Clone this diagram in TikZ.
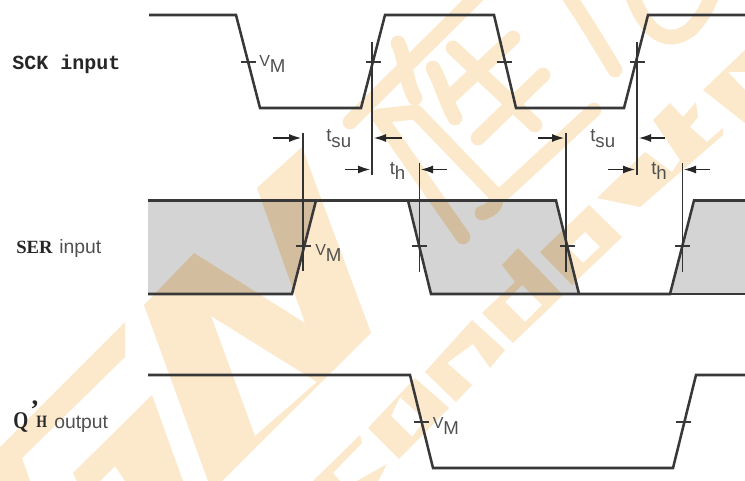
\documentclass[tikz,border=0pt]{standalone}
\usepackage{fontspec}
\setmainfont{Liberation Sans}
\newfontfamily\slabmono{Liberation Mono}[BoldFont={Liberation Mono Bold}]
\newfontfamily\slabserif{Liberation Serif}[BoldFont={Liberation Serif Bold}]
\usetikzlibrary{arrows.meta}
\definecolor{wm}{HTML}{FCE8CB}
\definecolor{wmdark}{HTML}{D2BE9F}
\definecolor{sig}{HTML}{383838}
\definecolor{lab}{HTML}{505050}
\definecolor{datagrey}{HTML}{D4D4D4}
\tikzset{
  wmfill/.style={fill=wm,draw=none,even odd rule},
  wmstroke/.style={draw=wm,line width=11pt,line cap=round,line join=round},
  signal/.style={draw=sig,line width=1.9pt,line join=miter},
  tick/.style={draw=sig,line width=.8pt},
  guide/.style={draw=black!80,line width=.85pt},
  dim/.style={draw=black!85,line width=.8pt,-{Latex[length=9pt,width=6pt]}},
  lbl/.style={inner sep=0pt,anchor=base west,text=lab,font=\fontsize{14pt}{15pt}\selectfont},
  sigtext/.style={inner sep=0pt,anchor=base west,text=black!85,font=\fontsize{14.5pt}{16pt}\selectfont}
}
\newcommand{\subdrop}[2]{#1\raisebox{-4.5pt}{#2}}
\newcommand{\smallV}{{\fontsize{12pt}{15pt}\selectfont V}}
\newcommand{\wmshapes}{%
\fill[wmfill] (125,322) -- (125,357) -- (22,458) -- (30,481) -- (0,481) -- (0,447) -- cycle;
\fill[wmfill] (73,473) -- (152,395) -- (183,481) -- (125,481) -- (115,466) -- (100,481) -- (77,481) -- cycle;
\fill[wmfill] (144,305) -- (194,253) -- (305,323) -- (257,188) -- (302,147) -- (371,333) -- (222,481) -- (208,481) -- cycle
  (211,316) -- (317,382) -- (255,436) -- cycle;
\fill[wmfill] (313,481) -- (360,435) -- (362,443) -- (333,473) -- (340,481) -- cycle;
\fill[wmfill] (357,481) -- (387,464) -- (378,481) -- cycle;
\fill[wmfill] (368,428) -- (415,378) -- (449,408) -- (399,459) -- cycle
  (400,397) -- (391,416) -- (412,437) -- (425,420) -- cycle;
\fill[wmfill] (425,372) -- (472,320) -- (505,350) -- (490,368) -- (473,344) -- (447,363) -- (472,385) -- (456,402) -- cycle;
\fill[wmfill] (502,265) -- (518,248) -- (563,295) -- (513,343) -- (482,313) -- (515,282) -- cycle
  (505,302) -- (525,322) -- (542,305) -- (522,285) -- cycle;
\fill[wmfill] (540,252) -- (589,205) -- (622,237) -- (572,285) -- cycle
  (568,248) -- (583,263) -- (600,247) -- (585,232) -- cycle;
\fill[wmfill] (653,120) -- (670,103) -- (683,117) -- (696,102) -- (698,117) -- (690,127) -- (707,142) -- (723,128) -- (723,135) -- (640,207) -- (597,198) -- (645,152) -- (672,172) -- (680,160) -- cycle;
\fill[wmfill] (703,90) -- (745,50) -- (745,72) -- (728,72) -- (745,90) -- (745,123) -- cycle;
\draw[wmstroke] (478,-5) -- (350,122);
\draw[wmstroke] (513,38) -- (447,100);
\draw[wmstroke] (543,75) -- (478,138);
\draw[wmstroke] (594,110) -- (505,192);
\draw[wmstroke] (453,48) -- (535,125);
\draw[wmstroke] (378,116) -- (416,112) -- (494,193) .. controls (500,203) and (492,210) .. (482,213);
\draw[wmstroke] (380,118) -- (463,237);
\draw[wmstroke] (398,43) .. controls (406,60) and (405,80) .. (415,98);
\draw[wmstroke] (433,68) .. controls (442,85) and (445,100) .. (455,118);
\draw[wmstroke] (568,-5) .. controls (585,20) and (600,45) .. (615,70);
\draw[wmstroke] (632,-5) .. controls (645,30) and (665,48) .. (690,30) .. controls (698,22) and (706,12) .. (712,-5);
}
\newcommand{\shadeA}{(148,200) -- (316,200) -- (292,294) -- (148,294) -- cycle}
\newcommand{\shadeB}{(408,200) -- (556,200) -- (579,294) -- (431,294) -- cycle}
\newcommand{\shadeC}{(694,200) -- (745,200) -- (745,294) -- (670,294) -- cycle}
\begin{document}
\begin{tikzpicture}[x=.75pt,y=-.75pt]
\useasboundingbox (0,0) rectangle (745,481);
\fill[white] (0,0) rectangle (745,481);
% watermark
\wmshapes
% shaded data regions
\fill[datagrey] \shadeA;
\fill[datagrey] \shadeB;
\fill[datagrey] \shadeC;
% watermark seen through the shaded regions
\begin{scope}
\colorlet{wm}{wmdark}
\clip \shadeA \shadeB \shadeC;
\wmshapes
\end{scope}
% SCK
\draw[signal] (149,15) -- (236,15) -- (260,108) -- (361,108) -- (385,15) -- (494,15) -- (516,108) -- (624,108) -- (648,15) -- (745,15);
% SER
\draw[signal] (148,294) -- (292,294) -- (316,200.5);
\draw[signal] (148,200.5) -- (556,200.5) -- (579,294);
\draw[signal] (408,200.5) -- (431,294) -- (670,294) -- (694,200.5) -- (745,200.5);
\draw[signal] (670,294) -- (745,294);
% Q'H
\draw[signal] (148,375) -- (410,375) -- (433,468) -- (673,468) -- (696,375) -- (745,375);
% VM ticks
\foreach \x/\y in {248/62,373/62,504/62,637/62,303/246,419/246,567/246,682/246,421/422,683/422}
  \draw[tick] (\x-7.5,\y) -- (\x+7.5,\y);
% guides
\draw[guide] (372,42) -- (372,175);
\draw[guide] (637,42) -- (637,175);
\draw[guide] (303,133) -- (303,271);
\draw[guide] (419.5,163) -- (419.5,272);
\draw[guide] (566,133) -- (566,272);
\draw[guide] (682.5,163) -- (682.5,272);
% dimension arrows
\draw[dim] (273,138) -- (301,138);
\draw[dim] (402,138) -- (374,138);
\draw[dim] (345,169.5) -- (370,169.5);
\draw[dim] (447,169.5) -- (421,169.5);
\draw[dim] (538,138) -- (564,138);
\draw[dim] (665,138) -- (639,138);
\draw[dim] (608,169.5) -- (635,169.5);
\draw[dim] (710,169.5) -- (684,169.5);
% measurement labels
\node[lbl] (vm1) at (259,67) {\subdrop{\smallV}{M}};
\node[lbl] (vm2) at (315,255.5) {\subdrop{\smallV}{M}};
\node[lbl] (vm3) at (432.5,428) {\subdrop{\smallV}{M}};
\node[lbl] (tsu1) at (326,142) {\subdrop{t}{su}};
\node[lbl] (tsu2) at (590,142) {\subdrop{t}{su}};
\node[lbl] (th1) at (389.5,174) {\subdrop{t}{h}};
\node[lbl] (th2) at (651,174) {\subdrop{t}{h}};
% signal names
\node[sigtext,font=\slabmono\bfseries\fontsize{15pt}{16pt}\selectfont] (sck) at (12,70) {SCK input};
\node[sigtext,font=\slabserif\bfseries\fontsize{14pt}{16pt}\selectfont] (ser) at (16,253) {SER};
\node[sigtext,text=lab] (serin) at (59,253) {input};
\node[sigtext,font=\slabserif\bfseries\fontsize{18pt}{20pt}\selectfont] (qh) at (13,428) {\scalebox{.8}[1]{Q}};
\node[sigtext,font=\slabserif\bfseries\fontsize{20pt}{22pt}\selectfont] (qp) at (30,418) {’};
\node[sigtext,font=\slabserif\bfseries\fontsize{13pt}{16pt}\selectfont] (hh) at (36,427.5) {\scalebox{.8}[1]{H}};
\node[sigtext,text=lab] (qout) at (54,428) {output};
\end{tikzpicture}
\end{document}
